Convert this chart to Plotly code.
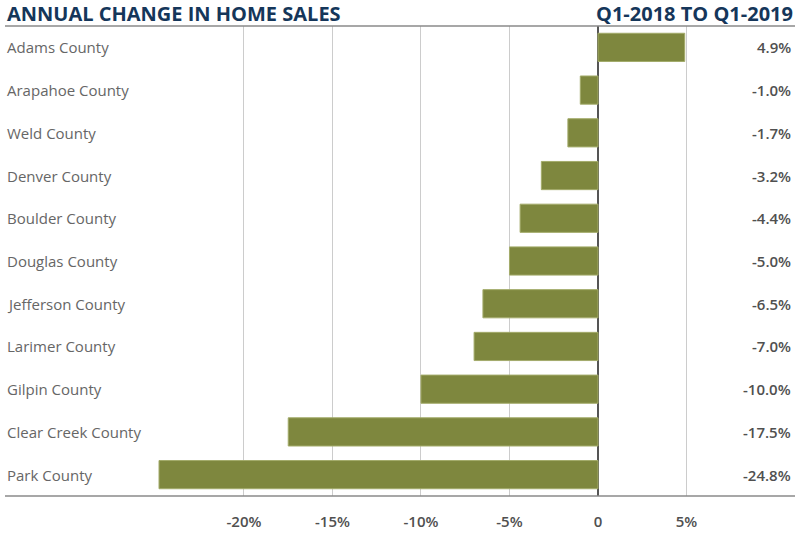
import plotly.graph_objects as go

counties = ["Adams County", "Arapahoe County", "Weld County", "Denver County",
            "Boulder County", "Douglas County", "Jefferson County", "Larimer County",
            "Gilpin County", "Clear Creek County", "Park County"]
changes = [4.9, -1.0, -1.7, -3.2, -4.4, -5.0, -6.5, -7.0, -10.0, -17.5, -24.8]
value_labels = ["4.9%", "-1.0%", "-1.7%", "-3.2%", "-4.4%", "-5.0%", "-6.5%",
                "-7.0%", "-10.0%", "-17.5%", "-24.8%"]
tick_vals = [-20, -15, -10, -5, 0, 5]
tick_text = ["-20%", "-15%", "-10%", "-5%", "0", "5%"]

title = "ANNUAL CHANGE IN HOME SALES"
subtitle = "Q1-2018 TO Q1-2019"

FONT = "Open Sans"

fig = go.Figure()
fig.add_trace(go.Bar(
    x=changes, y=counties, orientation="h",
    marker=dict(color="#7e873e", line=dict(color="#a3ab6a", width=1)),
    hoverinfo="x+y",
))

annotations = []
for c, lab in zip(counties, value_labels):
    annotations.append(dict(x=0, xref="paper", y=c, yref="y", text=c,
                            xanchor="left", showarrow=False,
                            font=dict(size=15, color="#666666", family=FONT)))
    annotations.append(dict(x=1, xref="paper", y=c, yref="y", xshift=-2, text=lab,
                            xanchor="right", showarrow=False,
                            font=dict(size=15, color="#505050", family=FONT, weight=600)))
annotations.append(dict(x=0, xref="paper", y=1, yref="paper", yshift=13, text=title,
                        xanchor="left", yanchor="middle", showarrow=False,
                        font=dict(size=20, color="#15365a", family=FONT, weight=700)))
annotations.append(dict(x=1, xref="paper", y=1, yref="paper", yshift=13, text=subtitle,
                        xanchor="right", yanchor="middle", showarrow=False,
                        font=dict(size=20, color="#15365a", family=FONT, weight=700)))

fig.update_layout(
    width=800, height=540,
    margin=dict(l=5, r=5, t=26, b=44),
    paper_bgcolor="white", plot_bgcolor="white",
    showlegend=False,
    bargap=0.34,
    annotations=annotations,
    xaxis=dict(range=[-33.5, 11.13], tickvals=tick_vals, ticktext=tick_text,
               showgrid=True, gridcolor="#cccccc", gridwidth=1,
               zeroline=True, zerolinecolor="#555555", zerolinewidth=1.5,
               ticks="outside", ticklen=12, tickcolor="rgba(0,0,0,0)",
               tickfont=dict(size=15, color="#505050", family=FONT, weight=600),
               showline=False, fixedrange=True),
    yaxis=dict(categoryorder="array", categoryarray=counties[::-1],
               showticklabels=False, showgrid=False, zeroline=False, fixedrange=True),
    shapes=[
        dict(type="line", xref="paper", yref="paper", x0=0, x1=1, y0=1, y1=1,
             line=dict(color="#8a8a8a", width=1.5)),
        dict(type="line", xref="paper", yref="paper", x0=0, x1=1, y0=0, y1=0,
             line=dict(color="#8a8a8a", width=1.5)),
    ],
)

fig.write_html("out.html", config={"displayModeBar": False},
               post_script="document.body.style.margin='0';document.body.style.overflow='hidden';")
